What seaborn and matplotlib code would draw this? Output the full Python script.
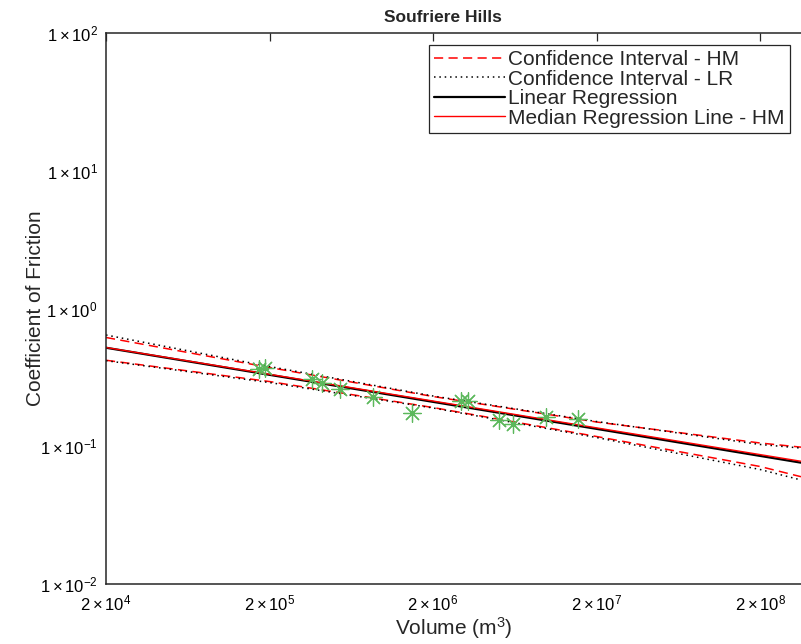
import matplotlib
matplotlib.use("Agg")
import matplotlib.pyplot as plt
import seaborn as sns

vol_pts = [1.73e5, 1.88e5, 3.62e5, 4.17e5, 5.40e5, 8.63e5, 1.48e6,
           2.95e6, 3.29e6, 5.09e6, 6.20e6, 9.82e6, 1.53e7]
fric_pts = [0.364, 0.370, 0.306, 0.286, 0.259, 0.229, 0.175,
            0.213, 0.213, 0.155, 0.144, 0.162, 0.157]

line_x = [2e4, 2e5, 2e6, 2e7, 2e8, 3.56e8]
lr_fit = [0.519, 0.330, 0.210, 0.1337, 0.0851, 0.0760]
hm_fit = [0.521, 0.333, 0.213, 0.136, 0.0870, 0.0778]
lr_upper = [0.642, 0.379, 0.2316, 0.1512, 0.1030, 0.0970]
lr_lower = [0.418, 0.290, 0.1896, 0.1157, 0.0678, 0.0569]
hm_upper = [0.616, 0.373, 0.2297, 0.150, 0.1056, 0.0985]
hm_lower = [0.421, 0.295, 0.191, 0.1177, 0.0713, 0.0601]

x_ticks = [2e4, 2e5, 2e6, 2e7, 2e8]
x_labels = [r"$2\times10^{4}$", r"$2\times10^{5}$", r"$2\times10^{6}$",
            r"$2\times10^{7}$", r"$2\times10^{8}$"]
y_ticks = [1e-2, 1e-1, 1e0, 1e1, 1e2]
y_labels = [r"$1\times10^{-2}$", r"$1\times10^{-1}$", r"$1\times10^{0}$",
            r"$1\times10^{1}$", r"$1\times10^{2}$"]

sns.set_style("white")
plt.rcParams['font.family'] = ['Liberation Sans', 'DejaVu Sans']
plt.rcParams['mathtext.fontset'] = 'custom'
plt.rcParams['mathtext.rm'] = 'Liberation Sans'
plt.rcParams['mathtext.it'] = 'Liberation Sans:italic'
plt.rcParams['mathtext.bf'] = 'Liberation Sans:bold'

fig = plt.figure(figsize=(8.01, 6.44), dpi=100)
ax = fig.add_axes([106/801, 1 - 584/644, 695/801, 551/644])
ax.set_xscale('log')
ax.set_yscale('log')

dash = (0, (6, 3.5))
dot = (0, (1, 2.5))
sns.lineplot(x=line_x, y=hm_upper, ax=ax, color='red', linestyle=dash, lw=1.1,
             label='Confidence Interval - HM')
sns.lineplot(x=line_x, y=hm_lower, ax=ax, color='red', linestyle=dash, lw=1.1,
             label='_nolegend_')
sns.lineplot(x=line_x, y=lr_upper, ax=ax, color='black', linestyle=dot, lw=1.1,
             label='Confidence Interval - LR')
sns.lineplot(x=line_x, y=lr_lower, ax=ax, color='black', linestyle=dot, lw=1.1,
             label='_nolegend_')
sns.lineplot(x=line_x, y=lr_fit, ax=ax, color='black', lw=1.6,
             label='Linear Regression')
sns.lineplot(x=line_x, y=hm_fit, ax=ax, color='red', lw=1.0,
             label='Median Regression Line - HM')
sns.scatterplot(x=vol_pts, y=fric_pts, ax=ax, marker=(8, 2, 0), s=160,
                color='#5cb85c', edgecolor='#5cb85c', linewidth=0.9,
                label='_nolegend_', zorder=3)

ax.set_xlim(2e4, 3.56e8)
ax.set_ylim(1e-2, 1e2)
ax.set_xticks(x_ticks)
ax.set_xticklabels(x_labels)
ax.set_yticks(y_ticks)
ax.set_yticklabels(y_labels)
ax.minorticks_off()
ax.tick_params(direction='in', length=6, width=0.9, colors='0.15',
               labelsize=12, top=True, right=False)
ax.tick_params(axis='x', labelcolor='black', pad=7)
ax.tick_params(axis='y', labelcolor='black', pad=6)
for side in ['left', 'bottom', 'top']:
    ax.spines[side].set_color('0.15')
    ax.spines[side].set_linewidth(1.1)
ax.spines['right'].set_visible(False)

ax.set_xlabel('Volume (m$^3$)', fontsize=15, labelpad=1)
ax.set_ylabel('Coefficient of Friction', fontsize=15, labelpad=-4)
ax.set_title('Soufriere Hills', fontsize=12.5, fontweight='bold', x=0.485, pad=8)

leg = ax.legend(loc='upper right', bbox_to_anchor=(0.984, 0.978), borderaxespad=0,
                fontsize=15, labelspacing=0.02, handlelength=3.4, handletextpad=0.15,
                borderpad=0.25, frameon=True, fancybox=False, edgecolor='0.15',
                framealpha=1)
leg.get_frame().set_linewidth(0.9)

fig.savefig('out.png', dpi=100)
